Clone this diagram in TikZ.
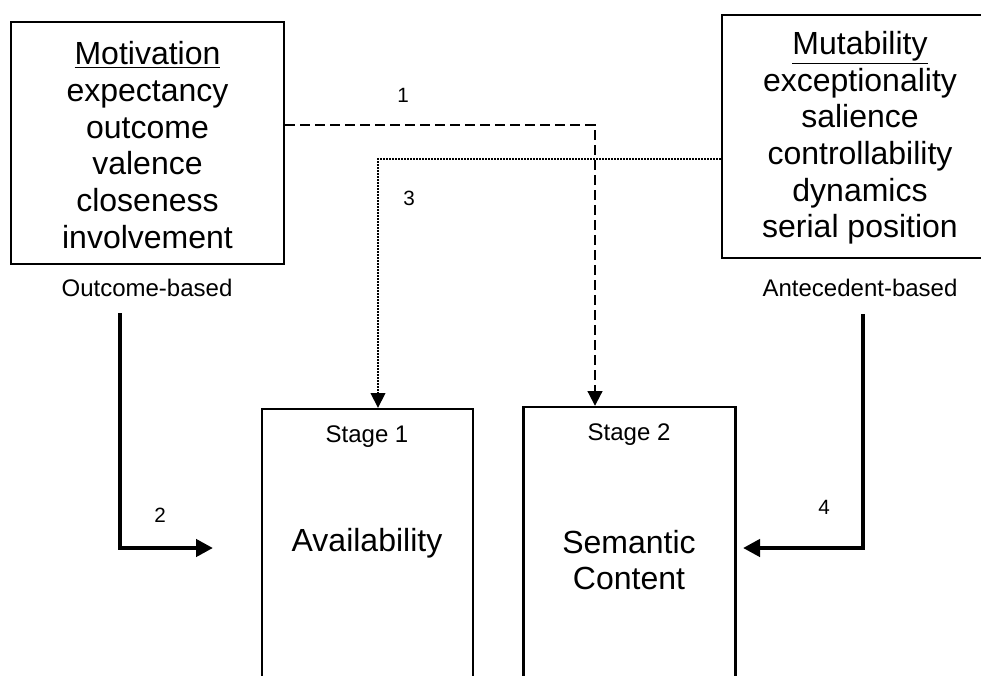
\documentclass[tikz,border=0pt]{standalone}
\usepackage{fontspec}
\setmainfont{Liberation Sans}
\usetikzlibrary{arrows.meta}
\begin{document}
\begin{tikzpicture}[x=0.75pt,y=-0.75pt,
  box/.style={draw, line width=1.8pt, inner sep=0pt, rectangle},
  bigtext/.style={font=\fontsize{24pt}{27.5pt}\selectfont, align=center, inner sep=0pt},
  stagetext/.style={font=\fontsize{18pt}{21pt}\selectfont, inner sep=0pt},
  sidetext/.style={font=\fontsize{18pt}{21pt}\selectfont, inner sep=0pt},
  numtext/.style={font=\fontsize{15.5pt}{18pt}\selectfont, inner sep=0pt},
  thickarrow/.style={line width=3.5pt, line join=miter, -{Triangle[length=12.75pt,width=12.75pt]}},
  dasharrow/.style={line width=1.5pt, dash pattern=on 7.5pt off 3.75pt, -{Triangle[length=11pt,width=11pt]}},
  dotarrow/.style={line width=1.2pt, dash pattern=on 1pt off 1.25pt, -{Triangle[length=11pt,width=11pt]}}
]
\useasboundingbox (0,0) rectangle (981,675);
\clip (0,0) rectangle (981,675);

% upper factor boxes
\node[box, minimum width=204.75pt, minimum height=181.5pt] (mot) at (147.5,143) {};
\node[bigtext] at (147.5,145) {\underline{Motivation}\\expectancy\\outcome\\valence\\closeness\\involvement};
\node[box, minimum width=207pt, minimum height=182.25pt] (mut) at (860,136.5) {};
\node[bigtext] at (860,138) {\underline{Mutability}\\exceptionality\\salience\\controllability\\dynamics\\serial position};

\node[sidetext] (outb) at (147,288) {Outcome-based};
\node[sidetext] (antb) at (860,288) {Antecedent-based};

% stage boxes, running past the lower edge
\node[box, minimum width=158.25pt, minimum height=219pt] (s1) at (367.5,555) {};
\node[box, minimum width=159pt, minimum height=219pt] (s2) at (629.5,553) {};
\node[stagetext] (s1t) at (367,437) {Stage 1};
\node[bigtext] (s1c) at (367,543) {Availability};
\node[stagetext] (s2t) at (629,435) {Stage 2};
\node[bigtext] (s2c) at (629,560) {Semantic\\Content};

% route points
\coordinate (d1) at (595,125);
\coordinate (d3) at (378,159);
\coordinate (a2s) at (120,313);
\coordinate (a2c) at (120,548);
\coordinate (a2e) at (213,548);
\coordinate (a4s) at (863,314);
\coordinate (a4c) at (863,548);
\coordinate (a4e) at (743,548);

% connectors
\draw[dasharrow] (mot.east |- d1) -- (d1) -- (d1 |- s2.north);
\draw[dotarrow] (mut.west |- d3) -- (d3) -- (d3 |- s1.north);
\draw[thickarrow] (a2s) -- (a2c) -- (a2e);
\draw[thickarrow] (a4s) -- (a4c) -- (a4e);

% path numbers
\node[numtext] (n1) at (403,95) {1};
\node[numtext] (n2) at (160,515) {2};
\node[numtext] (n3) at (409,198) {3};
\node[numtext] (n4) at (824,507) {4};
\end{tikzpicture}
\end{document}
